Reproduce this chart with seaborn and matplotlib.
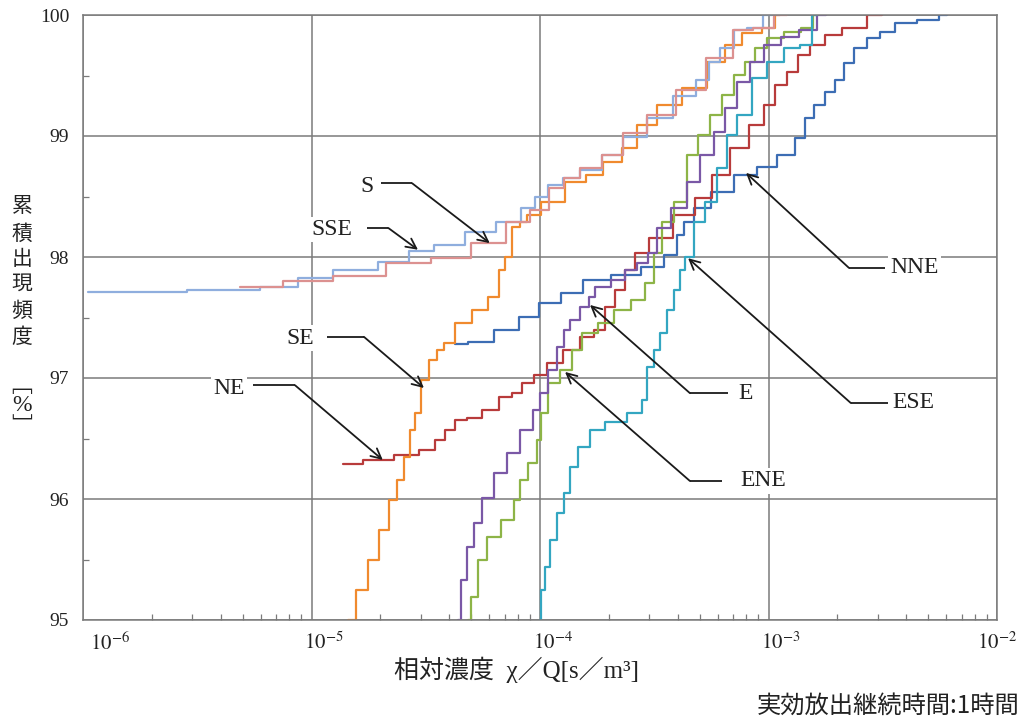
import numpy as np
import pandas as pd
import matplotlib
matplotlib.use("Agg")
import matplotlib.pyplot as plt
import matplotlib.transforms as mtransforms
import seaborn as sns
from matplotlib.ticker import LogLocator, MultipleLocator, FuncFormatter, NullFormatter

# ---------------- data (log10 of chi/Q [s/m3], cumulative frequency [%]) ----------------
sse_logx = [-5.978, -5.335, -5.138, -4.993, -4.832, -4.613, -4.534, -4.407, -4.263, -4.131,
            -4.044, -4.000, -3.934, -3.869, -3.781, -3.681, -3.593, -3.475, -3.365, -3.278,
            -3.243, -3.182, -3.125, -3.068, -2.985]
sse_pct = [97.711, 97.727, 97.752, 97.826, 97.893, 97.959, 98.050, 98.099, 98.207, 98.289,
           98.405, 98.496, 98.595, 98.653, 98.719, 98.843, 98.992, 99.149, 99.331, 99.463,
           99.612, 99.727, 99.876, 99.893, 100.0]

s_logx = [-5.313, -4.993, -4.832, -4.556, -4.407, -4.219, -4.088, -4.000, -3.926, -3.869,
          -3.781, -3.681, -3.593, -3.475, -3.344, -3.212, -3.103, -3.037, -2.919]
s_pct = [97.752, 97.802, 97.843, 97.950, 97.992, 98.116, 98.289, 98.388, 98.570, 98.653,
         98.736, 98.843, 99.025, 99.174, 99.380, 99.645, 99.876, 99.893, 100.0]

se_logx = [-4.840, -4.775, -4.731, -4.678, -4.643, -4.613, -4.582, -4.556, -4.538, -4.503,
           -4.468, -4.438, -4.407, -4.337, -4.263, -4.197, -4.162, -4.144, -4.101, -4.074,
           -4.044, -3.956, -3.834, -3.768, -3.681, -3.606, -3.549, -3.431, -3.330, -3.212,
           -3.168, -3.068, -2.993, -2.950]
se_pct = [95.000, 95.248, 95.496, 95.744, 95.992, 96.157, 96.347, 96.570, 96.711, 96.983,
          97.149, 97.231, 97.289, 97.455, 97.562, 97.669, 97.893, 98.000, 98.248, 98.289,
          98.347, 98.455, 98.620, 98.678, 98.785, 98.901, 99.091, 99.256, 99.397, 99.612,
          99.752, 99.851, 99.893, 100.0]

ne_logx = [-4.862, -4.700, -4.582, -4.481, -4.438, -4.394, -4.350, -4.293, -4.219, -4.144,
           -4.101, -4.057, -4.000, -3.943, -3.856, -3.794, -3.737, -3.694, -3.650, -3.606,
           -3.562, -3.488, -3.357, -3.287, -3.212, -3.125, -3.050, -2.993, -2.950, -2.893,
           -2.849, -2.788, -2.718, -2.643, -2.503]
ne_pct = [96.289, 96.322, 96.364, 96.405, 96.488, 96.570, 96.653, 96.669, 96.736, 96.843,
          96.876, 96.959, 97.025, 97.124, 97.231, 97.339, 97.397, 97.587, 97.727, 97.893,
          98.033, 98.157, 98.347, 98.488, 98.678, 98.901, 99.091, 99.256, 99.421, 99.529,
          99.669, 99.752, 99.835, 99.893, 100.0]

nne_logx = [-4.372, -4.263, -4.144, -4.044, -3.969, -3.856, -3.768, -3.619, -3.505, -3.418,
            -3.387, -3.357, -3.300, -3.212, -3.094, -3.007, -2.919, -2.849, -2.832, -2.775,
            -2.731, -2.687, -2.656, -2.600, -2.543, -2.481, -2.411, -2.293, -2.219]
nne_pct = [97.281, 97.298, 97.397, 97.504, 97.620, 97.702, 97.810, 97.851, 97.917, 98.017,
           98.182, 98.289, 98.405, 98.537, 98.678, 98.744, 98.843, 98.983, 99.149, 99.256,
           99.364, 99.463, 99.603, 99.727, 99.810, 99.860, 99.934, 99.959, 100.0]

e_logx = [-4.359, -4.337, -4.306, -4.276, -4.232, -4.175, -4.118, -4.057, -4.009, -3.987,
          -3.943, -3.912, -3.882, -3.856, -3.794, -3.781, -3.737, -3.650, -3.606, -3.549,
          -3.505, -3.475, -3.387, -3.330, -3.269, -3.212, -3.168, -3.112, -3.050, -2.993,
          -2.906, -2.832, -2.748]
e_pct = [95.000, 95.331, 95.603, 95.802, 96.008, 96.215, 96.380, 96.570, 96.736, 96.876,
         97.066, 97.256, 97.397, 97.479, 97.587, 97.669, 97.752, 97.810, 97.893, 97.950,
         98.033, 98.240, 98.405, 98.620, 98.843, 99.033, 99.231, 99.446, 99.612, 99.752,
         99.818, 99.876, 100.0]

ene_logx = [-4.315, -4.293, -4.249, -4.219, -4.131, -4.101, -4.074, -4.031, -4.000, -3.987,
            -3.943, -3.882, -3.838, -3.794, -3.707, -3.650, -3.562, -3.519, -3.488, -3.444,
            -3.387, -3.330, -3.287, -3.225, -3.182, -3.125, -3.081, -3.037, -2.980, -2.893,
            -2.827, -2.788]
ene_pct = [95.000, 95.190, 95.496, 95.686, 95.826, 95.992, 96.157, 96.298, 96.488, 96.711,
           96.959, 97.066, 97.231, 97.372, 97.455, 97.562, 97.645, 97.785, 98.033, 98.289,
           98.455, 98.843, 99.008, 99.174, 99.339, 99.504, 99.612, 99.727, 99.810, 99.860,
           99.893, 100.0]

ese_logx = [-4.000, -3.987, -3.969, -3.943, -3.912, -3.882, -3.856, -3.812, -3.751, -3.681,
            -3.562, -3.549, -3.519, -3.488, -3.462, -3.431, -3.400, -3.374, -3.357, -3.300,
            -3.256, -3.199, -3.168, -3.112, -3.037, -2.980, -2.893, -2.832, -2.788]
ese_pct = [95.000, 95.248, 95.438, 95.661, 95.884, 96.050, 96.264, 96.430, 96.570, 96.636,
           96.711, 96.818, 97.091, 97.231, 97.372, 97.562, 97.727, 97.893, 98.000, 98.289,
           98.455, 98.736, 99.008, 99.174, 99.479, 99.612, 99.727, 99.752, 100.0]

x_ticks = [1e-6, 1e-5, 1e-4, 1e-3, 1e-2]
y_ticks = [95, 96, 97, 98, 99, 100]

directions = ["NNE", "NE", "ENE", "E", "ESE", "SE", "SSE", "S"]
series = {
    "NNE": (nne_logx, nne_pct), "NE": (ne_logx, ne_pct), "ENE": (ene_logx, ene_pct),
    "E": (e_logx, e_pct), "ESE": (ese_logx, ese_pct), "SE": (se_logx, se_pct),
    "SSE": (sse_logx, sse_pct), "S": (s_logx, s_pct),
}
palette = {
    "NNE": "#3C6DB4", "NE": "#B83B3B", "ENE": "#8DB447", "E": "#7A58A6",
    "ESE": "#33A6C1", "SE": "#F08A2E", "SSE": "#8FAEDE", "S": "#DC9190",
}

rows = []
for d in directions:
    lx, pc = series[d]
    for a, b in zip(lx, pc):
        rows.append((d, 10.0 ** a, b))
df = pd.DataFrame(rows, columns=["dir", "chi_q", "pct"])

# ---------------- style ----------------
sns.set_theme(style="white")
plt.rcParams["font.family"] = ["Liberation Serif", "Noto Sans CJK JP"]
plt.rcParams["mathtext.fontset"] = "stix"

fig = plt.figure(figsize=(10.24, 7.22), dpi=100)
ax = fig.add_axes([83 / 1024, 1 - 620 / 722, 914 / 1024, 605 / 722])

sns.lineplot(data=df, x="chi_q", y="pct", hue="dir", hue_order=directions, palette=palette,
             estimator=None, sort=False, legend=False, ax=ax, drawstyle="steps-mid",
             linewidth=1.6)

ax.set_xscale("log")
ax.set_xticks(x_ticks)
ax.xaxis.set_minor_locator(LogLocator(base=10, subs=np.arange(2, 10), numticks=20))
ax.xaxis.set_minor_formatter(NullFormatter())
ax.xaxis.set_major_formatter(FuncFormatter(lambda v, p: r"$10^{%d}$" % int(round(np.log10(v)))))
ax.set_yticks(y_ticks)
ax.yaxis.set_minor_locator(MultipleLocator(0.5))
ax.yaxis.set_major_formatter(FuncFormatter(lambda v, p: "%d" % v))
ax.set_xlim(x_ticks[0], x_ticks[-1])
ax.set_ylim(y_ticks[0], y_ticks[-1])

ax.grid(True, which="major", color="#7a7a7a", linewidth=1.1)
ax.set_axisbelow(True)
for sp in ax.spines.values():
    sp.set_color("#7a7a7a")
    sp.set_linewidth(1.1)
ax.tick_params(axis="both", which="both", direction="in", colors="#7a7a7a",
               labelcolor="#222222", bottom=True, left=True, top=False, right=False)
ax.tick_params(axis="both", which="major", length=0)
ax.tick_params(axis="y", which="major", labelsize=14, pad=10)
ax.tick_params(axis="x", which="major", labelsize=15, pad=9)
ax.tick_params(axis="both", which="minor", length=4, width=0.9)
ax.set_xlabel("")
ax.set_ylabel("")

# shift x tick labels like the reference (first pushed inside, last kept inside)
shifts_px = [27, 12, 13, 12, 0]
for tick, dx in zip(ax.xaxis.get_major_ticks(), shifts_px):
    t = tick.label1
    t.set_transform(t.get_transform() +
                    mtransforms.ScaledTranslation(dx / 100, 0, fig.dpi_scale_trans))

# ---------------- annotations ----------------
annots = [
    # label, text(x,y), line start x, line end x, line y, arrow tip (x,y)  [axes fraction]
    ("S", (0.311, 0.717), 0.326, 0.360, 0.722, (0.445, 0.623)),
    ("SSE", (0.272, 0.645), 0.311, 0.334, 0.648, (0.3665, 0.612)),
    ("SE", (0.238, 0.466), 0.267, 0.3074, 0.468, (0.373, 0.3835)),
    ("NE", (0.160, 0.383), 0.186, 0.232, 0.388, (0.328, 0.2645)),
    ("E", (0.725, 0.375), 0.7057, 0.664, 0.375, (0.5547, 0.5207)),
    ("ENE", (0.744, 0.2298), 0.699, 0.664, 0.2298, (0.5274, 0.410)),
    ("ESE", (0.909, 0.3587), 0.8807, 0.840, 0.3587, (0.662, 0.598)),
    ("NNE", (0.910, 0.582), 0.8775, 0.838, 0.582, (0.7254, 0.739)),
]
for lab, (tx, ty), x1, x2, ly, tip in annots:
    ax.plot([x1, x2], [ly, ly], transform=ax.transAxes, color="#1a1a1a", lw=1.3,
            solid_capstyle="butt", zorder=5)
    ax.annotate("", xy=tip, xycoords="axes fraction", xytext=(x2, ly),
                textcoords="axes fraction",
                arrowprops=dict(arrowstyle="->", color="#1a1a1a", lw=1.3,
                                shrinkA=0, shrinkB=0, mutation_scale=18), zorder=5)
    ax.text(tx, ty, lab, transform=ax.transAxes, ha="center", va="center",
            fontsize=17, color="#222222", zorder=6,
            bbox=dict(facecolor="white", edgecolor="none", pad=1.5))

# ---------------- axis titles ----------------
cjk = ["Noto Sans CJK JP", "Liberation Serif"]
ychars = ["累", "積", "出", "現", "頻", "度"]
ypos = [206, 234, 259, 284, 311, 337]
for ch, py in zip(ychars, ypos):
    fig.text(22 / 1024, 1 - py / 722, ch, ha="center", va="center", fontsize=15,
             family=cjk, color="#222222")
fig.text(22 / 1024, 1 - 386 / 722, "﹇", ha="center", va="center", fontsize=15,
         family=cjk, color="#222222")
fig.text(22 / 1024, 1 - 406 / 722, "%", ha="center", va="center", fontsize=17,
         family=["Liberation Serif"], color="#222222")
fig.text(22 / 1024, 1 - 427 / 722, "﹈", ha="center", va="center", fontsize=15,
         family=cjk, color="#222222")

fig.text(516 / 1024, 1 - 670 / 722, "相対濃度  χ／Q[s／m³]", ha="center", va="center",
         fontsize=18, family=["Liberation Serif", "Noto Sans CJK JP"], color="#222222")
fig.text(1020 / 1024, 1 - 706 / 722, "実効放出継続時間:1時間", ha="right", va="center",
         fontsize=17.5, family=["Noto Sans CJK JP", "Liberation Serif"], color="#222222")

fig.savefig("out.png", dpi=100, facecolor="white")
